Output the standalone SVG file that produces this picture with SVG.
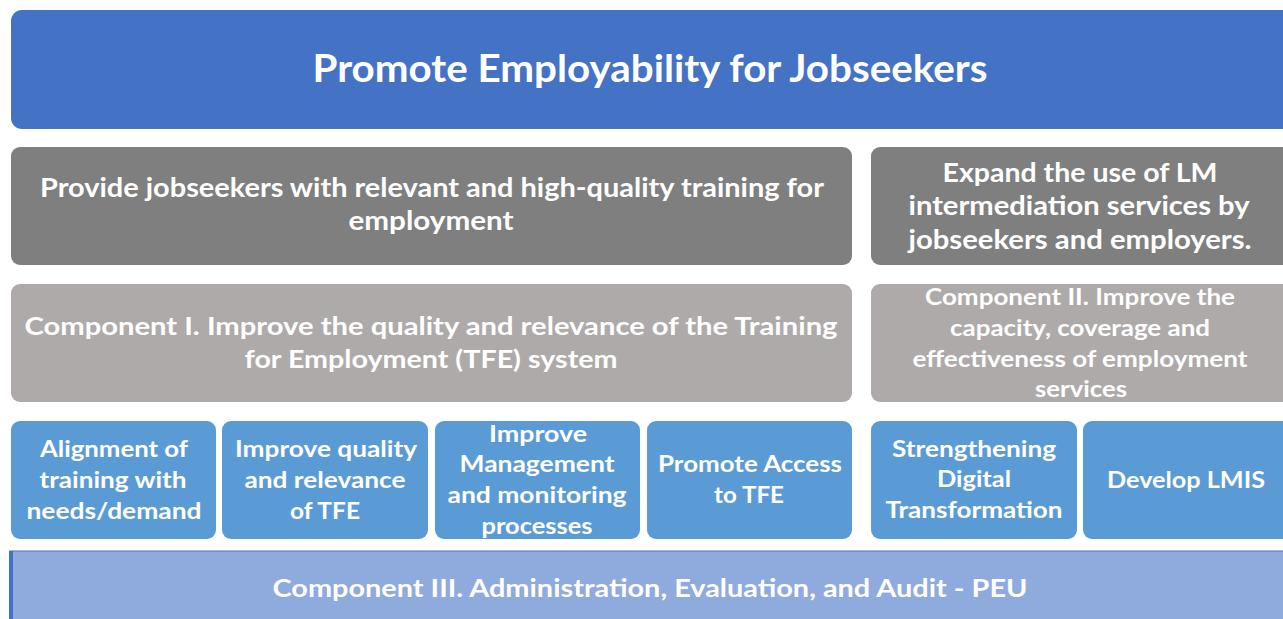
<svg xmlns="http://www.w3.org/2000/svg" width="1283" height="619" viewBox="0 0 1283 619">
<style>
text{font-family:Lato,"Open Sans","Liberation Sans",sans-serif;font-weight:bold;fill:#fff;text-anchor:middle}
.t{font-size:38px}
.g{font-size:26px}
.c{font-size:25px}
.s{font-size:23px}
.b{font-size:23px}
</style>
<rect width="1283" height="619" fill="#fff"/>
<g id="goal"><rect x="11" y="10" width="1290" height="119" rx="11" fill="#4472C4"/>
<text class="t" x="650" y="82" textLength="675" lengthAdjust="spacingAndGlyphs">Promote Employability for Jobseekers</text></g>
<g id="obj1"><rect x="11" y="147" width="841" height="118" rx="9" fill="#7F7F7F"/>
<text class="g" x="432" y="197" textLength="784" lengthAdjust="spacingAndGlyphs">Provide jobseekers with relevant and high-quality training for</text>
<text class="g" x="431" y="230" textLength="165" lengthAdjust="spacingAndGlyphs">employment</text></g>
<g id="obj2"><rect x="871" y="147" width="430" height="118" rx="9" fill="#7F7F7F"/>
<text class="g" x="1080" y="182" textLength="275" lengthAdjust="spacingAndGlyphs">Expand the use of LM</text>
<text class="g" x="1079" y="215" textLength="341" lengthAdjust="spacingAndGlyphs">intermediation services by</text>
<text class="g" x="1080" y="249" textLength="343" lengthAdjust="spacingAndGlyphs">jobseekers and employers.</text></g>
<g id="comp1"><rect x="11" y="284" width="841" height="118" rx="9" fill="#AEAAAA"/>
<text class="c" x="431" y="335" textLength="813" lengthAdjust="spacingAndGlyphs">Component I. Improve the quality and relevance of the Training</text>
<text class="c" x="431" y="368" textLength="373" lengthAdjust="spacingAndGlyphs">for Employment (TFE) system</text></g>
<g id="comp2"><rect x="871" y="284" width="430" height="118" rx="9" fill="#AEAAAA"/>
<text class="s" x="1080" y="305" textLength="310" lengthAdjust="spacingAndGlyphs">Component II. Improve the</text>
<text class="s" x="1080" y="336" textLength="260" lengthAdjust="spacingAndGlyphs">capacity, coverage and</text>
<text class="s" x="1080" y="367" textLength="335" lengthAdjust="spacingAndGlyphs">effectiveness of employment</text>
<text class="s" x="1081" y="397" textLength="92" lengthAdjust="spacingAndGlyphs">services</text></g>
<g id="a1"><rect x="11" y="421" width="205" height="118" rx="9" fill="#5B9BD5"/>
<text class="b" x="114" y="457" textLength="148" lengthAdjust="spacingAndGlyphs">Alignment of</text>
<text class="b" x="113" y="488" textLength="147" lengthAdjust="spacingAndGlyphs">training with</text>
<text class="b" x="114" y="519" textLength="175" lengthAdjust="spacingAndGlyphs">needs/demand</text></g>
<g id="a2"><rect x="222" y="421" width="206" height="118" rx="9" fill="#5B9BD5"/>
<text class="b" x="326" y="457" textLength="182" lengthAdjust="spacingAndGlyphs">Improve quality</text>
<text class="b" x="325" y="488" textLength="161" lengthAdjust="spacingAndGlyphs">and relevance</text>
<text class="b" x="325" y="519" textLength="70" lengthAdjust="spacingAndGlyphs">of TFE</text></g>
<g id="a3"><rect x="435" y="421" width="205" height="118" rx="9" fill="#5B9BD5"/>
<text class="b" x="538" y="442" textLength="98" lengthAdjust="spacingAndGlyphs">Improve</text>
<text class="b" x="537" y="472" textLength="155" lengthAdjust="spacingAndGlyphs">Management</text>
<text class="b" x="537" y="503" textLength="179" lengthAdjust="spacingAndGlyphs">and monitoring</text>
<text class="b" x="537" y="534" textLength="111" lengthAdjust="spacingAndGlyphs">processes</text></g>
<g id="a4"><rect x="647" y="421" width="205" height="118" rx="9" fill="#5B9BD5"/>
<text class="b" x="750" y="472" textLength="184" lengthAdjust="spacingAndGlyphs">Promote Access</text>
<text class="b" x="749" y="503" textLength="70" lengthAdjust="spacingAndGlyphs">to TFE</text></g>
<g id="a5"><rect x="871" y="421" width="206" height="118" rx="9" fill="#5B9BD5"/>
<text class="b" x="974" y="457" textLength="164" lengthAdjust="spacingAndGlyphs">Strengthening</text>
<text class="b" x="974" y="487" textLength="74" lengthAdjust="spacingAndGlyphs">Digital</text>
<text class="b" x="974" y="518" textLength="177" lengthAdjust="spacingAndGlyphs">Transformation</text></g>
<g id="a6"><rect x="1083" y="421" width="220" height="118" rx="9" fill="#5B9BD5"/>
<text class="b" x="1186" y="488" textLength="158" lengthAdjust="spacingAndGlyphs">Develop LMIS</text></g>
<g id="comp3"><rect x="10" y="551" width="1290" height="80" fill="#8FAADC" stroke="#4472C4" stroke-width="1"/>
<rect x="9" y="551" width="4" height="68" fill="#4472C4"/>
<text class="c" x="650" y="597" textLength="755" lengthAdjust="spacingAndGlyphs">Component III. Administration, Evaluation, and Audit - PEU</text></g>
<g id="connectors"/>
</svg>
